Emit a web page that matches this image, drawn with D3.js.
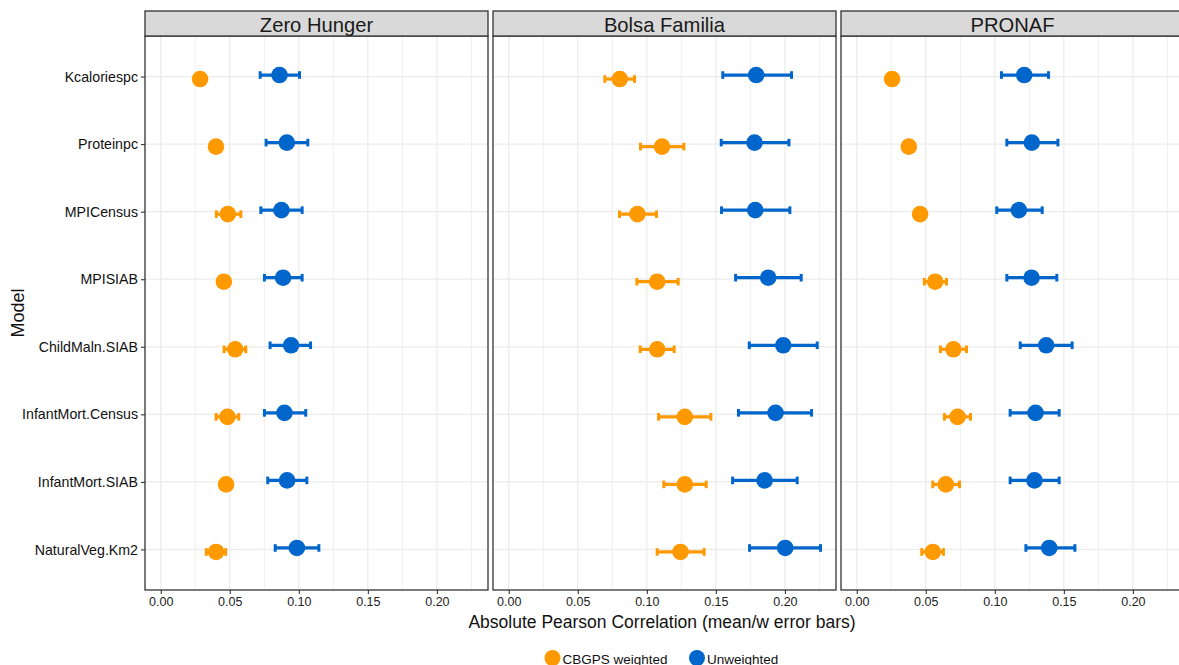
<!DOCTYPE html>
<html>
<head>
<meta charset="utf-8">
<script src="https://cdn.jsdelivr.net/npm/d3@7"></script>
<style>
  html, body { margin: 0; padding: 0; background: #fff; overflow: hidden; }
  svg { display: block; font-family: "Liberation Sans", Arial, sans-serif; }
</style>
</head>
<body>
<svg id="chart" width="1179" height="665"></svg>
<script>
// ---- DATA ----
const categories = ["Kcaloriespc", "Proteinpc", "MPICensus", "MPISIAB",
  "ChildMaln.SIAB", "InfantMort.Census", "InfantMort.SIAB", "NaturalVeg.Km2"];
const panels = ["Zero Hunger", "Bolsa Familia", "PRONAF"];
const seriesNames = ["CBGPS weighted", "Unweighted"];
const xTicks = [0, 0.05, 0.10, 0.15, 0.20];
const xTickLabels = ["0.00", "0.05", "0.10", "0.15", "0.20"];

// [mean, lower, upper] per category
const zeroHungerWeighted = [
  [0.0285, 0.0255, 0.0315], [0.0400, 0.0370, 0.0430], [0.0486, 0.0403, 0.0580], [0.0457, 0.0420, 0.0495],
  [0.0539, 0.0459, 0.0616], [0.0483, 0.0401, 0.0565], [0.0473, 0.0435, 0.0510], [0.0401, 0.0330, 0.0470]];
const zeroHungerUnweighted = [
  [0.0860, 0.0720, 0.1005], [0.0913, 0.0763, 0.1065], [0.0874, 0.0725, 0.1024], [0.0886, 0.0751, 0.1024],
  [0.0944, 0.0792, 0.1085], [0.0896, 0.0751, 0.1050], [0.0915, 0.0775, 0.1058], [0.0986, 0.0829, 0.1145]];
const bolsaWeighted = [
  [0.0804, 0.0696, 0.0911], [0.1110, 0.0954, 0.1268], [0.0932, 0.0802, 0.1070], [0.1075, 0.0928, 0.1227],
  [0.1075, 0.0952, 0.1198], [0.1275, 0.1085, 0.1464], [0.1275, 0.1123, 0.1430], [0.1244, 0.1075, 0.1415]];
const bolsaUnweighted = [
  [0.1792, 0.1550, 0.2048], [0.1780, 0.1539, 0.2029], [0.1785, 0.1541, 0.2036], [0.1879, 0.1643, 0.2118],
  [0.1988, 0.1742, 0.2234], [0.1932, 0.1664, 0.2193], [0.1853, 0.1621, 0.2089], [0.2002, 0.1744, 0.2258]];
const pronafWeighted = [
  [0.0256, 0.0226, 0.0286], [0.0377, 0.0347, 0.0407], [0.0459, 0.0425, 0.0493], [0.0568, 0.0490, 0.0650],
  [0.0700, 0.0606, 0.0795], [0.0730, 0.0635, 0.0824], [0.0645, 0.0551, 0.0744], [0.0551, 0.0471, 0.0628]];
const pronafUnweighted = [
  [0.1213, 0.1048, 0.1389], [0.1268, 0.1087, 0.1457], [0.1174, 0.1014, 0.1343], [0.1266, 0.1087, 0.1449],
  [0.1372, 0.1184, 0.1560], [0.1295, 0.1111, 0.1466], [0.1287, 0.1111, 0.1466], [0.1394, 0.1225, 0.1580]];

const panelData = [
  [zeroHungerWeighted, zeroHungerUnweighted],
  [bolsaWeighted, bolsaUnweighted],
  [pronafWeighted, pronafUnweighted]
];
const colors = ["#ff9900", "#0066cc"];
const yOffsets = [2.5, -1.5];

// ---- LAYOUT ----
const svg = d3.select("#chart");
const panelLefts = [145, 493, 841];
const panelW = 343;
const stripTop = 11, panelTop = 36, panelBottom = 590;
const panelH = panelBottom - panelTop;
const textColor = "#111";

const x = d3.scaleLinear().domain([-0.0114, 0.237]).range([0, panelW]);
const y = d3.scalePoint().domain(categories).range([0, panelH]).padding(0.6);

const minorTicks = [0.025, 0.075, 0.125, 0.175, 0.225];

panels.forEach((name, pi) => {
  const g = svg.append("g").attr("transform", `translate(${panelLefts[pi]},${panelTop})`);
  g.append("rect").attr("width", panelW).attr("height", panelH).attr("fill", "#fff");
  g.selectAll("line.minor").data(minorTicks).enter().append("line")
    .attr("x1", d => x(d)).attr("x2", d => x(d)).attr("y1", 0).attr("y2", panelH)
    .attr("stroke", "#efefef").attr("stroke-width", 1);
  g.selectAll("line.majx").data(xTicks).enter().append("line")
    .attr("x1", d => x(d)).attr("x2", d => x(d)).attr("y1", 0).attr("y2", panelH)
    .attr("stroke", "#ebebeb").attr("stroke-width", 1.2);
  g.selectAll("line.majy").data(categories).enter().append("line")
    .attr("x1", 0).attr("x2", panelW).attr("y1", d => y(d)).attr("y2", d => y(d))
    .attr("stroke", "#ebebeb").attr("stroke-width", 1.2);

  panelData[pi].forEach((arr, si) => {
    const sg = g.append("g");
    const col = colors[si];
    arr.forEach((v, ci) => {
      const cy = y(categories[ci]) + yOffsets[si];
      sg.append("line").attr("x1", x(v[1])).attr("x2", x(v[2]))
        .attr("y1", cy).attr("y2", cy).attr("stroke", col).attr("stroke-width", 3.2);
      [v[1], v[2]].forEach(e => {
        sg.append("line").attr("x1", x(e)).attr("x2", x(e))
          .attr("y1", cy - 3.8).attr("y2", cy + 3.8).attr("stroke", col).attr("stroke-width", 3);
      });
      sg.append("circle").attr("cx", x(v[0])).attr("cy", cy).attr("r", 8.3).attr("fill", col);
    });
  });

  g.append("rect").attr("width", panelW).attr("height", panelH)
    .attr("fill", "none").attr("stroke", "#333").attr("stroke-width", 1.3);

  const s = svg.append("g").attr("transform", `translate(${panelLefts[pi]},${stripTop})`);
  s.append("rect").attr("width", panelW).attr("height", panelTop - stripTop)
    .attr("fill", "#d9d9d9").attr("stroke", "#333").attr("stroke-width", 1.3);
  s.append("text").attr("x", panelW / 2).attr("y", (panelTop - stripTop) / 2 + 1)
    .attr("text-anchor", "middle").attr("dominant-baseline", "central")
    .attr("font-size", 20.2).attr("fill", "#1a1a1a").text(name);

  const xa = svg.append("g").attr("transform", `translate(${panelLefts[pi]},${panelBottom})`)
    .call(d3.axisBottom(x).tickValues(xTicks).tickFormat((d, i) => xTickLabels[i]).tickSizeOuter(0).tickSize(4).tickPadding(3));
  xa.select(".domain").remove();
  xa.selectAll(".tick line").attr("stroke", "#333").attr("stroke-width", 1.1);
  xa.selectAll(".tick text").attr("font-size", 12.5).attr("fill", "#222")
    .attr("font-family", "'Liberation Sans', Arial, sans-serif");
});

const ya = svg.append("g").attr("transform", `translate(${panelLefts[0]},${panelTop})`)
  .call(d3.axisLeft(y).tickSize(4).tickPadding(3).tickSizeOuter(0));
ya.select(".domain").remove();
ya.selectAll(".tick line").attr("stroke", "#333").attr("stroke-width", 1.1);
ya.selectAll(".tick text").attr("font-size", 14.2).attr("fill", textColor)
  .attr("font-family", "'Liberation Sans', Arial, sans-serif");

svg.append("text").attr("x", 662).attr("y", 628).attr("text-anchor", "middle")
  .attr("font-size", 17.5).attr("fill", textColor).text("Absolute Pearson Correlation (mean/w error bars)");
svg.append("text").attr("transform", `translate(24,${(panelTop + panelBottom) / 2}) rotate(-90)`)
  .attr("text-anchor", "middle").attr("font-size", 18).attr("fill", textColor).text("Model");

const legendX = [552.5, 697];
seriesNames.forEach((n, i) => {
  svg.append("circle").attr("cx", legendX[i]).attr("cy", 658).attr("r", 8).attr("fill", colors[i]);
  svg.append("text").attr("x", legendX[i] + 10).attr("y", 663.5).attr("font-size", 13.5)
    .attr("fill", textColor).text(n);
});
</script>
</body>
</html>
